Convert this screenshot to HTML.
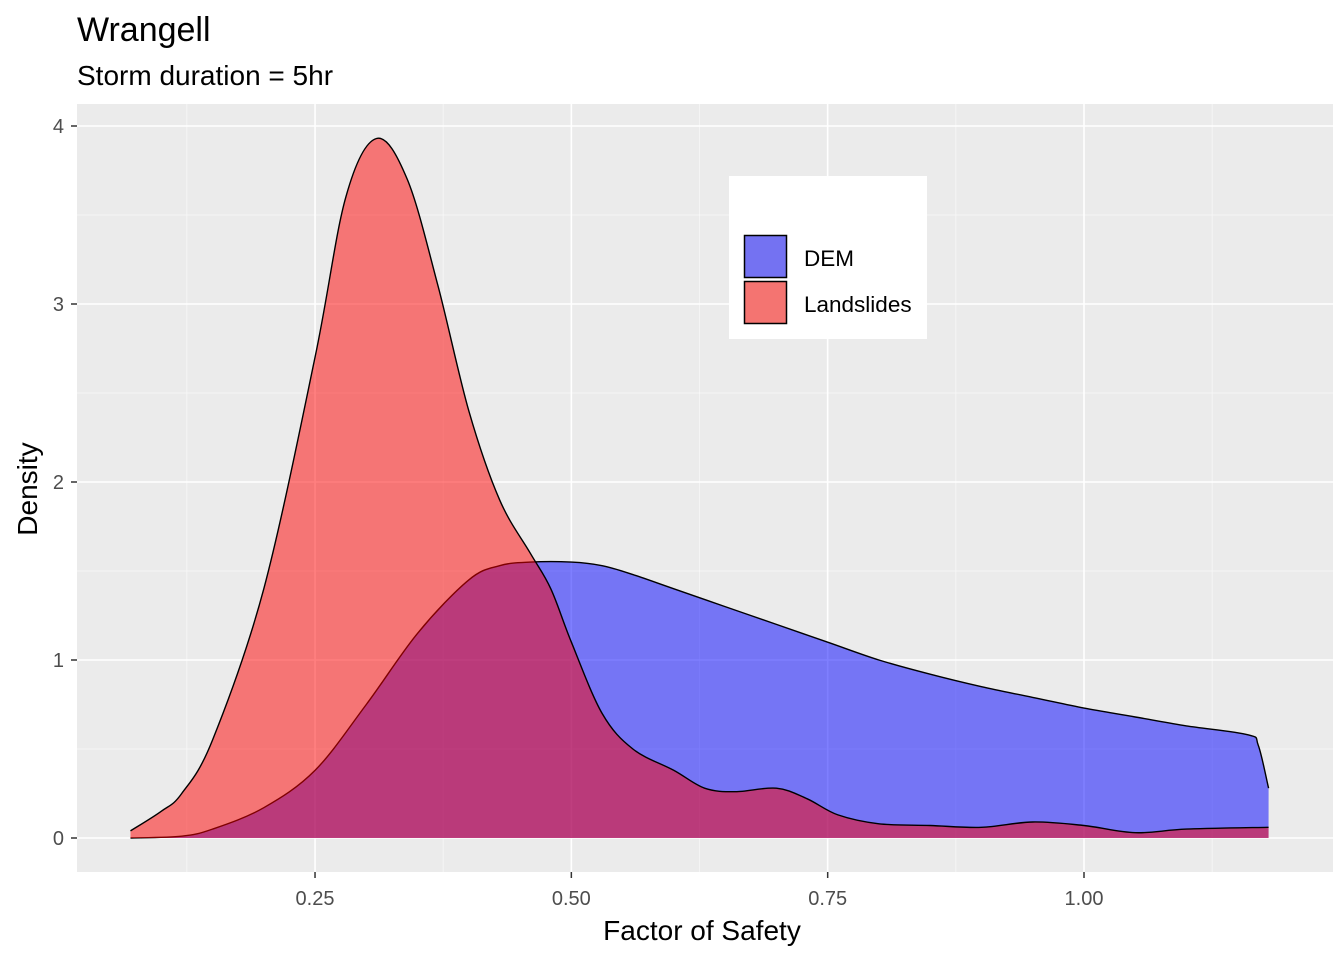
<!DOCTYPE html>
<html><head><meta charset="utf-8"><style>
body{margin:0;background:#fff;font-family:"Liberation Sans",Arial,sans-serif;}
</style></head><body>
<svg id="chart" width="1344" height="960" xmlns="http://www.w3.org/2000/svg">
<rect width="1344" height="960" fill="#fff"/>
<text x="77" y="41" font-size="34" fill="#000">Wrangell</text>
<text x="77" y="85" font-size="28" fill="#000">Storm duration = 5hr</text>
<rect x="77" y="104" width="1256" height="768" fill="#ebebeb"/>
<g id="grid"></g>
<g id="series"></g>
<g id="axes"></g>
<text x="702" y="940" font-size="28" text-anchor="middle">Factor of Safety</text>
<text transform="translate(37,489) rotate(-90)" font-size="28" text-anchor="middle">Density</text>
<g>
<rect x="729" y="176" width="198" height="163" fill="#fff"/>
<rect x="744.5" y="235.5" width="42" height="42" fill="#7472f2" stroke="#000" stroke-width="1.5"/>
<text x="804" y="266" font-size="22.5">DEM</text>
<rect x="744.5" y="281.5" width="42" height="42" fill="#f47471" stroke="#000" stroke-width="1.5"/>
<text x="804" y="312" font-size="22.5">Landslides</text>
</g>
</svg>
<script>
const demX=[0.07,0.12,0.15,0.20,0.25,0.30,0.35,0.40,0.43,0.46,0.50,0.53,0.56,0.60,0.65,0.70,0.75,0.80,0.85,0.90,0.95,1.00,1.05,1.10,1.16,1.17,1.18];
const demY=[0.0,0.01,0.05,0.17,0.38,0.75,1.15,1.45,1.53,1.55,1.55,1.53,1.48,1.4,1.3,1.2,1.1,1.0,0.92,0.85,0.79,0.73,0.68,0.63,0.58,0.52,0.28];
const lsX=[0.07,0.10,0.12,0.15,0.20,0.25,0.28,0.31,0.34,0.37,0.40,0.43,0.46,0.48,0.50,0.53,0.56,0.60,0.63,0.66,0.70,0.73,0.76,0.80,0.85,0.90,0.95,1.00,1.05,1.10,1.18];
const lsY=[0.04,0.15,0.25,0.55,1.4,2.7,3.6,3.93,3.7,3.1,2.4,1.9,1.6,1.4,1.1,0.7,0.5,0.38,0.28,0.26,0.28,0.22,0.13,0.08,0.07,0.06,0.09,0.07,0.03,0.05,0.06];
const xTicks=[0.25,0.50,0.75,1.00];
const xTickLabels=["0.25","0.50","0.75","1.00"];
const yTicks=[0,1,2,3,4];
const yTickLabels=["0","1","2","3","4"];
const NS="http://www.w3.org/2000/svg";
const sx=v=>58.7+v*1025.3;
const sy=v=>838-v*178;
function mk(tag,attrs,parent){const e=document.createElementNS(NS,tag);for(const k in attrs)e.setAttribute(k,attrs[k]);parent.appendChild(e);return e;}
const grid=document.getElementById('grid'),axes=document.getElementById('axes'),series=document.getElementById('series');
[0.125,0.375,0.625,0.875,1.125].forEach(m=>{const l=mk('line',{x1:sx(m),x2:sx(m),y1:104,y2:872,stroke:'#fff','stroke-width':0.8,opacity:0.6},grid);});
for(let i=0;i<yTicks.length-1;i++){const m=yTicks[i]+0.5;const l=mk('line',{x1:77,x2:1333,y1:sy(m),y2:sy(m),stroke:'#fff','stroke-width':0.8,opacity:0.6},grid);}
xTicks.forEach((t,i)=>{const l=mk('line',{x1:sx(t),x2:sx(t),y1:104,y2:872,stroke:'#fff','stroke-width':1.6},grid);
const tk=mk('line',{x1:sx(t),x2:sx(t),y1:872,y2:878,stroke:'#333','stroke-width':1.5},axes);
const tx=mk('text',{x:sx(t),y:905,'font-size':20,'text-anchor':'middle',fill:'#4d4d4d'},axes);tx.textContent=xTickLabels[i];});
yTicks.forEach((t,i)=>{const l=mk('line',{x1:77,x2:1333,y1:sy(t),y2:sy(t),stroke:'#fff','stroke-width':1.6},grid);
const tk=mk('line',{x1:71,x2:77,y1:sy(t),y2:sy(t),stroke:'#333','stroke-width':1.5},axes);
const tx=mk('text',{x:64,y:sy(t)+7,'font-size':20,'text-anchor':'end',fill:'#4d4d4d'},axes);tx.textContent=yTickLabels[i];});
function curve(xs,ys){const p=xs.map((x,i)=>[sx(x),sy(ys[i])]);let d='';
for(let i=0;i<p.length-1;i++){const p0=p[Math.max(0,i-1)],p1=p[i],p2=p[i+1],p3=p[Math.min(p.length-1,i+2)];
const c1=[p1[0]+(p2[0]-p0[0])/6,p1[1]+(p2[1]-p0[1])/6],c2=[p2[0]-(p3[0]-p1[0])/6,p2[1]-(p3[1]-p1[1])/6];
d+='C'+c1[0].toFixed(1)+','+c1[1].toFixed(1)+' '+c2[0].toFixed(1)+','+c2[1].toFixed(1)+' '+p2[0].toFixed(1)+','+p2[1].toFixed(1);}
return {start:p[0],d:d};}
function area(xs,ys,fill,name){const c=curve(xs,ys);
const fillD='M'+sx(xs[0])+','+sy(0)+'L'+c.start[0]+','+c.start[1]+c.d+'L'+sx(xs[xs.length-1])+','+sy(0)+'Z';
const p=mk('path',{d:fillD,fill:fill,'fill-opacity':0.5,stroke:'none'},series);
const o=mk('path',{d:'M'+c.start[0]+','+c.start[1]+c.d,fill:'none',stroke:'#000','stroke-width':1.4,'stroke-linejoin':'round'},series);}
area(demX,demY,'#0000ff','dem-density-area');
area(lsX,lsY,'#ff0000','landslides-density-area');
</script>
</body></html>
